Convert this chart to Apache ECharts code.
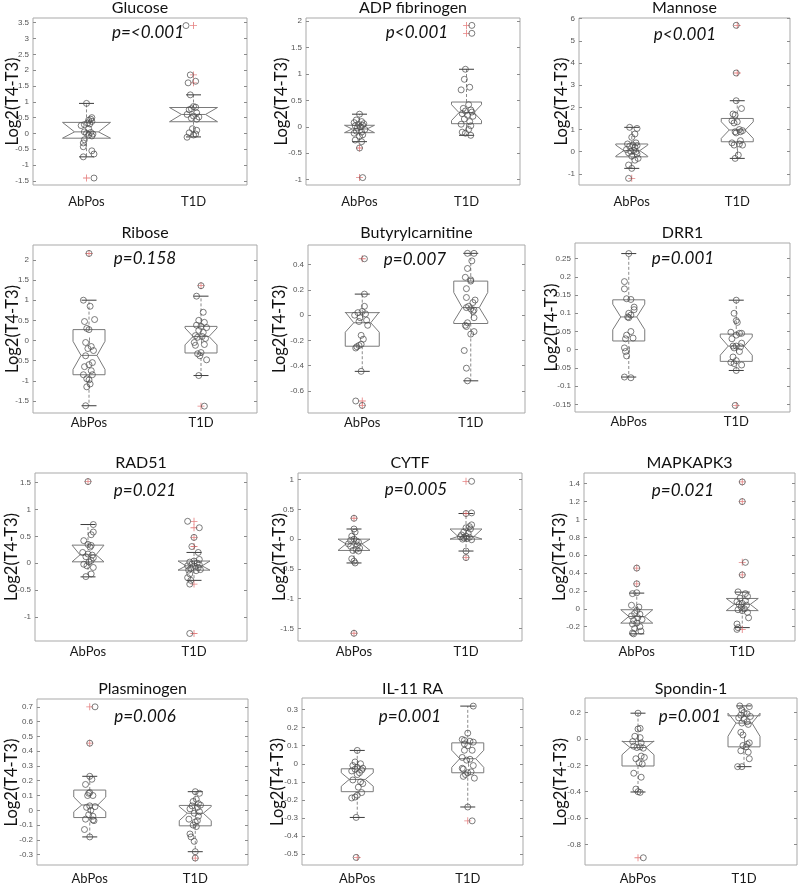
<!DOCTYPE html>
<html><head><meta charset="utf-8">
<script src="https://cdn.jsdelivr.net/npm/echarts@6/dist/echarts.min.js"></script>
<style>html,body{margin:0;padding:0;background:#fff}#c{width:799px;height:885px}</style>
</head><body><div id="c"></div><script>
// ---------------- DATA ----------------
const categories = ['AbPos', 'T1D'];
const titles = ['Glucose','ADP fibrinogen','Mannose','Ribose','Butyrylcarnitine','DRR1','RAD51','CYTF','MAPKAPK3','Plasminogen','IL-11 RA','Spondin-1'];
const pTexts = ['p=<0.001','p<0.001','p<0.001','p=0.158','p=0.007','p=0.001','p=0.021','p=0.005','p=0.021','p=0.006','p=0.001','p=0.001'];
const yMin = [-1.63, -1.1, -1.5, -1.8, -0.775, -0.171, -1.45, -1.71, -0.36, -0.37, -0.562, -0.955];
const yMax = [3.65, 2.06, 6.03, 2.37, 0.556, 0.293, 1.68, 1.11, 1.52, 0.753, 0.365, 0.31];
const yTicks = [
  [-1.5,-1,-0.5,0,0.5,1,1.5,2,2.5,3,3.5],
  [-1,-0.5,0,0.5,1,1.5,2],
  [-1,0,1,2,3,4,5,6],
  [-1.5,-1,-0.5,0,0.5,1,1.5,2],
  [-0.6,-0.4,-0.2,0,0.2,0.4],
  [-0.15,-0.1,-0.05,0,0.05,0.1,0.15,0.2,0.25],
  [-1,-0.5,0,0.5,1,1.5],
  [-1.5,-1,-0.5,0,0.5,1],
  [-0.2,0,0.2,0.4,0.6,0.8,1,1.2,1.4],
  [-0.3,-0.2,-0.1,0,0.1,0.2,0.3,0.4,0.5,0.6,0.7],
  [-0.5,-0.4,-0.3,-0.2,-0.1,0,0.1,0.2,0.3],
  [-0.8,-0.6,-0.4,-0.2,0,0.2]
];
// box stats: [lowWhisker, q1, notchLow, median, notchHigh, q3, highWhisker]
const boxAbPos = [
  [-0.74,-0.15,-0.15,0.05,0.35,0.35,0.95],
  [-0.28,-0.11,-0.11,-0.04,0.03,0.03,0.24],
  [-0.75,-0.23,-0.2,0.05,0.3,0.35,1.1],
  [-1.62,-0.85,-0.72,-0.37,-0.02,0.27,1.0],
  [-0.445,-0.246,-0.135,-0.06,0.025,0.02,0.167],
  [-0.075,0.024,0.055,0.09,0.125,0.137,0.264],
  [-0.255,0.025,0.025,0.155,0.336,0.336,0.72],
  [-0.4,-0.19,-0.19,-0.08,0.0,0.0,0.17],
  [-0.28,-0.16,-0.16,-0.086,-0.01,-0.01,0.176],
  [-0.18,-0.049,-0.01,0.036,0.09,0.137,0.23],
  [-0.298,-0.155,-0.125,-0.087,-0.05,-0.028,0.074],
  [-0.402,-0.205,-0.12,-0.065,-0.015,-0.02,0.195]
];
const boxT1D = [
  [-0.11,0.37,0.37,0.6,0.82,0.82,1.22],
  [-0.16,0.06,0.12,0.27,0.42,0.47,1.09],
  [-0.3,0.45,0.6,0.98,1.35,1.5,2.3],
  [-0.87,-0.31,-0.11,0.1,0.31,0.35,1.1],
  [-0.52,-0.066,-0.05,0.06,0.18,0.27,0.49],
  [-0.057,-0.032,-0.015,0.01,0.035,0.043,0.136],
  [-0.32,-0.13,-0.13,-0.05,0.04,0.04,0.2],
  [-0.2,0.0,0.0,0.045,0.17,0.17,0.43],
  [-0.21,-0.02,-0.02,0.05,0.116,0.116,0.187],
  [-0.28,-0.105,-0.07,-0.02,0.025,0.033,0.126],
  [-0.24,-0.05,-0.02,0.028,0.075,0.116,0.32],
  [-0.21,-0.06,0.02,0.12,0.195,0.175,0.25]
];
const outAbPos = [[-1.41],[-0.4,-0.96],[-1.2],[2.16],[0.447,-0.68,-0.715],[],[1.52],[0.35,-1.58],[0.456,0.28],[0.7,0.454],[-0.52],[-0.9]];
const outT1D = [[3.41,1.85,1.6],[1.92,1.77],[5.7,3.55],[1.36,-1.63],[],[-0.153],[0.78,0.66,0.48,0.31,-0.39,-1.31],[0.97,0.43,-0.31],[1.42,1.2,0.52,0.38,-0.23],[-0.323],[-0.317],[]];
// individual points: [jitter (category units), value]
const ptsAbPos = [
  [[0,0.95],[.05,.5],[.04,.45],[.02,.42],[.05,.38],[.01,.33],[.03,.3],[-.02,.28],[-.05,.25],[.02,.15],[-.02,.05],[.04,.03],[0,0],[.06,-.02],[.02,-.05],[.05,-.08],[-.02,-.2],[-.03,-.3],[-.03,-.42],[.05,-.55],[.07,-.65],[-.03,-.74],[.07,-1.41]],
  [[0,.24],[-.03,.13],[.02,.1],[-.05,.08],[.04,.06],[-.01,.05],[.03,.03],[-.04,.02],[.01,0],[-.02,-.02],[.05,-.05],[-.03,-.08],[.02,-.1],[-.05,-.12],[.03,-.15],[0,-.18],[-.04,-.25],[.02,-.28],[0,-.4],[.03,-.96]],
  [[-.02,1.1],[.05,1.05],[.03,.8],[0,.65],[.04,.4],[-.04,.35],[.01,.3],[.05,.28],[-.02,.25],[.03,.2],[-.05,.1],[.02,.05],[-.01,.02],[.04,0],[-.03,-.05],[.05,-.1],[0,-.2],[.06,-.3],[.03,-.38],[-.03,-.6],[0,-.75],[-.03,-1.2]],
  [[0,2.16],[-.05,1.0],[.01,.85],[.05,.52],[-.04,.47],[-.02,.3],[0,.27],[-.03,-.05],[.02,-.15],[-.01,-.2],[.04,-.25],[-.03,-.38],[.03,-.55],[0,-.6],[-.04,-.65],[.02,-.75],[-.05,-.85],[.03,-.85],[-.02,-.95],[0,-.98],[.01,-1.08],[-.02,-1.15],[-.03,-1.62]],
  [[.02,.447],[.02,.167],[.02,.07],[0,.03],[-.04,.02],[.03,.01],[-.07,0],[-.02,-.02],[.04,-.04],[-.03,-.05],[.05,-.08],[-.01,-.16],[.01,-.19],[-.01,-.23],[-.03,-.24],[-.05,-.25],[-.06,-.26],[-.01,-.445],[-.06,-.68],[0,-.715]],
  [[0,.264],[-.04,.187],[-.04,.167],[-.02,.14],[.02,.138],[.05,.117],[.05,.11],[0,.1],[.02,.095],[-.01,.09],[0,.088],[.02,.05],[-.02,.04],[.04,.032],[-.03,.03],[-.04,.005],[-.03,-.005],[-.02,-.017],[-.04,-.075],[.02,-.077]],
  [[0,1.52],[.05,.72],[.05,.58],[.03,.53],[-.04,.42],[0,.35],[.03,.33],[.02,.3],[-.05,.2],[0,.17],[.04,.15],[-.02,.12],[.05,.1],[.03,.05],[.01,.02],[-.04,-.02],[-.01,-.05],[.05,-.08],[.03,-.2],[-.02,-.25]],
  [[0,.35],[0,.17],[.01,.12],[-.02,.05],[0,0],[-.03,-.02],[.02,-.03],[.04,-.05],[-.05,-.08],[.03,-.1],[-.03,-.12],[.05,-.15],[.02,-.17],[-.01,-.19],[.04,-.2],[-.02,-.33],[0,-.37],[.01,-.4],[0,-1.58]],
  [[0,.456],[0,.28],[0,.18],[-.04,.17],[-.05,.04],[.02,.02],[0,-.02],[-.02,-.05],[.03,-.06],[-.05,-.08],[.01,-.1],[.05,-.12],[-.03,-.13],[0,-.16],[-.04,-.17],[.03,-.2],[-.02,-.22],[.04,-.25],[-.04,-.27],[-.03,-.28]],
  [[.05,.7],[0,.454],[0,.23],[.02,.21],[-.04,.175],[0,.12],[-.01,.115],[.03,.1],[-.02,.1],[0,.03],[.05,.025],[-.03,.02],[.01,0],[-.01,-.03],[.03,-.04],[-.04,-.06],[.03,-.065],[.04,-.07],[-.05,-.13],[0,-.18]],
  [[0,.074],[-.02,.01],[.03,0],[-.04,-.01],[0,-.02],[.05,-.025],[-.02,-.03],[.04,-.035],[-.05,-.04],[.02,-.05],[0,-.06],[-.04,-.09],[.03,-.1],[.05,-.11],[.01,-.13],[.04,-.16],[0,-.175],[-.02,-.185],[-.05,-.19],[-.01,-.298],[-.01,-.52]],
  [[0,.195],[.02,.08],[0,.075],[-.03,.02],[.02,.01],[-.05,-.02],[.03,-.03],[-.04,-.055],[.02,-.06],[-.01,-.065],[.05,-.07],[.03,-.13],[.06,-.14],[-.02,-.15],[.01,-.18],[.04,-.19],[-.04,-.26],[.03,-.29],[-.02,-.38],[0,-.4],[.02,-.405],[.05,-.9]]
];
const ptsT1D = [
  [[-.07,3.41],[-.03,1.85],[.02,1.65],[-.05,1.6],[-.03,1.22],[0,.85],[.02,.83],[-.02,.78],[-.04,.75],[.03,.65],[-.06,.6],[0,.55],[.05,.52],[-.02,.48],[.03,.45],[-.01,.15],[.03,.1],[-.04,.02],[.02,-.02],[0,-.05],[-.06,-.12]],
  [[.05,1.92],[.05,1.77],[-.01,1.09],[-.02,.9],[.03,.75],[-.05,.7],[.02,.42],[-.03,.35],[.04,.32],[-.01,.3],[.05,.28],[-.04,.25],[.01,.22],[.06,.2],[-.02,.15],[.03,.1],[-.05,.05],[.04,.02],[.02,-.05],[-.04,-.1],[-.01,-.12],[.04,-.16]],
  [[-.01,5.7],[-.01,3.55],[-.01,2.3],[.04,1.95],[-.04,1.7],[-.02,1.65],[-.05,1.4],[0,1.35],[-.03,1.3],[.02,1.0],[.05,.95],[-.02,.9],[.03,.9],[-.01,.85],[.03,.5],[-.05,.4],[.02,.35],[-.03,.3],[.05,.3],[.01,-.15],[-.02,-.3]],
  [[0,1.36],[-.04,1.1],[.02,.7],[-.02,.5],[.03,.45],[-.04,.38],[0,.35],[.05,.32],[-.02,.25],[.02,.2],[-.05,.12],[.01,.1],[-.03,.08],[.04,.05],[-.06,-.05],[.03,-.1],[-.05,-.12],[0,-.3],[-.03,-.33],[-.01,-.38],[.05,-.48],[-.02,-.87],[.03,-1.63]],
  [[-.03,.49],[.03,.49],[.01,.43],[-.03,.37],[-.05,.3],[0,.28],[0,.27],[-.04,.21],[-.04,.14],[.04,.12],[.02,.1],[-.02,.07],[-.04,.06],[0,.05],[.03,.04],[.02,.03],[.03,-.02],[-.03,-.06],[-.05,-.08],[-.04,-.09],[.03,-.13],[0,-.15],[-.06,-.28],[-.04,-.42],[-.03,-.52]],
  [[0,.136],[-.02,.1],[0,.08],[.01,.075],[-.05,.048],[.03,.045],[.05,.045],[0,.04],[-.04,.03],[.05,.018],[-.03,.01],[0,.01],[.04,.008],[-.02,.005],[.03,-.005],[-.03,-.02],[0,-.03],[-.05,-.035],[-.02,-.038],[.05,-.042],[0,-.057],[-.01,-.153]],
  [[-.06,.78],[.05,.66],[0,.48],[-.02,.31],[.04,.2],[.05,.07],[0,.04],[-.04,.02],[.03,0],[-.02,-.02],[.05,-.03],[-.06,-.05],[.01,-.06],[.04,-.08],[-.03,-.1],[.06,-.12],[-.05,-.13],[.02,-.14],[-.04,-.2],[-.06,-.27],[-.03,-.32],[-.04,-.39],[-.04,-1.31]],
  [[.05,.97],[.05,.44],[0,.43],[.05,.24],[.03,.21],[0,.19],[.04,.17],[-.02,.12],[.02,.1],[-.04,.07],[0,.05],[-.05,.04],[.03,.03],[-.02,.02],[.01,.01],[-.03,0],[.05,-.01],[0,-.2],[0,-.31]],
  [[0,1.42],[0,1.2],[.03,.52],[0,.38],[-.04,.19],[.03,.17],[.05,.14],[-.02,.12],[.03,.09],[-.05,.08],[0,.06],[-.03,.05],[.04,.04],[-.01,.02],[.02,0],[-.04,-.01],[0,-.02],[.05,-.04],[.06,-.1],[-.05,-.17],[-.04,-.21],[-.05,-.23]],
  [[0,.126],[.04,.115],[.01,.075],[-.02,.06],[.03,.045],[.05,.035],[-.03,.03],[.02,.02],[-.05,.01],[.04,-.01],[-.01,-.02],[.03,-.04],[-.06,-.06],[.02,-.07],[0,-.08],[-.02,-.1],[.01,-.11],[-.05,-.16],[-.04,-.18],[-.01,-.21],[0,-.28],[0,-.323]],
  [[.05,.32],[0,.17],[-.05,.135],[-.03,.13],[.02,.125],[.05,.12],[-.03,.11],[0,.1],[-.03,.075],[.04,.075],[-.05,.035],[.02,.025],[-.01,.02],[.05,-.01],[-.05,-.025],[-.04,-.03],[.03,-.045],[0,-.05],[-.02,-.06],[-.04,-.07],[.06,-.08],[0,-.24],[.04,-.317]],
  [[-.04,.25],[.05,.245],[-.02,.22],[0,.2],[.03,.19],[-.03,.18],[.06,.17],[-.05,.16],[0,.15],[.03,.13],[-.02,.12],[.04,.11],[-.03,.05],[-.01,.03],[.05,-.03],[.03,-.04],[-.01,-.05],[.02,-.06],[-.03,-.09],[.04,-.1],[.05,-.15],[-.06,-.21],[-.02,-.21]]
];

// ---------------- LAYOUT ----------------
const gridRects = [
  [33,18,214,167],[306,18,214,167],[579,18,211,167],
  [33,245,224,168],[308,245,217,168],[575,243,215,169],
  [35,473,212,168],[298,473,224,168],[584,473,211,168],
  [37,699,211,167],[302,698,221,168],[585,698,212,168]
];
const boxHalfPx = [24,15,16,16,17,16,16,16,16,16,16,16];
const titleY = [8,233,463,689];
const pPos = [[148,33],[417,33],[685,35],[145,259],[415,260],[683,259],[145,491],[416,490],[683,491],[145,717],[410,717],[690,717]];
const yLabelX = [13,282,562,13,280,552,12,280,560,12,278,561];
const labelMargin = [10,3,4,7];

const plusPath = 'path://M4.4,0h1.2v10h-1.2zM0,4.4h10v1.2h-10z';

function makeBox(hw) {
  return function (params, api) {
    const x = api.value(0);
    const Y = v => api.coord([x, v])[1];
    const cx = api.coord([x, api.value(4)])[0];
    const wl = Y(api.value(1)), q1 = Y(api.value(2)), nl = Y(api.value(3)), md = Y(api.value(4)),
          nh = Y(api.value(5)), q3 = Y(api.value(6)), wh = Y(api.value(7));
    const nw = hw / 2, cw = 7.5;
    const dash = {stroke:'#8a8a8a', lineWidth:1, lineDash:[3,2]};
    const cap = {stroke:'#3c3c3c', lineWidth:1};
    return {type:'group', children:[
      {type:'line', shape:{x1:cx,y1:q3,x2:cx,y2:wh}, style:dash},
      {type:'line', shape:{x1:cx,y1:q1,x2:cx,y2:wl}, style:dash},
      {type:'line', shape:{x1:cx-cw,y1:wh,x2:cx+cw,y2:wh}, style:cap},
      {type:'line', shape:{x1:cx-cw,y1:wl,x2:cx+cw,y2:wl}, style:cap},
      {type:'polygon', shape:{points:[[cx-hw,q1],[cx-hw,nl],[cx-nw,md],[cx-hw,nh],[cx-hw,q3],[cx+hw,q3],[cx+hw,nh],[cx+nw,md],[cx+hw,nl],[cx+hw,q1]]},
        style:{stroke:'#7a7a7a', fill:null, lineWidth:1}},
      {type:'line', shape:{x1:cx-nw,y1:md,x2:cx+nw,y2:md}, style:{stroke:'#7a7a7a', lineWidth:1}}
    ]};
  };
}

const grids = [], xAxes = [], yAxes = [], series = [], graphics = [];
const tickColor = '#8c8c8c';
titles.forEach((t, i) => {
  const [L, T, W, H] = gridRects[i];
  const row = Math.floor(i / 3);
  grids.push({left:L, top:T, width:W, height:H, show:true, borderColor:'#a9a9a9', borderWidth:1, backgroundColor:'#fff'});
  xAxes.push({gridIndex:i, type:'value', min:0.5, max:2.5, position:'bottom',
    axisLine:{show:false}, splitLine:{show:false},
    axisTick:{show:true, inside:true, length:3, customValues:[1,2], lineStyle:{color:tickColor}},
    axisLabel:{customValues:[1,2], formatter:v => categories[Math.round(v)-1], margin:labelMargin[row],
      fontFamily:'Lato', fontSize:13, color:'#1a1a1a'}});
  xAxes.push({gridIndex:i, type:'value', min:0.5, max:2.5, position:'top',
    axisLine:{show:false}, splitLine:{show:false},
    axisTick:{show:true, inside:true, length:3, customValues:[1,2], lineStyle:{color:tickColor}},
    axisLabel:{show:false}});
  yAxes.push({gridIndex:i, type:'value', min:yMin[i], max:yMax[i], position:'left',
    axisLine:{show:false}, splitLine:{show:false},
    axisTick:{show:true, inside:true, length:3, customValues:yTicks[i], lineStyle:{color:tickColor}},
    axisLabel:{customValues:yTicks[i], formatter:v => String(+(+v).toFixed(3)), fontFamily:'Liberation Sans', fontSize:8, color:'#555', margin:4}});
  yAxes.push({gridIndex:i, type:'value', min:yMin[i], max:yMax[i], position:'right',
    axisLine:{show:false}, splitLine:{show:false},
    axisTick:{show:true, inside:true, length:3, customValues:yTicks[i], lineStyle:{color:tickColor}},
    axisLabel:{show:false}});
  const xi = 2*i, yi = 2*i;
  series.push({type:'custom', xAxisIndex:xi, yAxisIndex:yi, renderItem:makeBox(boxHalfPx[i]), silent:true, z:2,
    encode:{x:0, y:4},
    data:[[1, ...boxAbPos[i]], [2, ...boxT1D[i]]]});
  series.push({type:'scatter', xAxisIndex:xi, yAxisIndex:yi, symbol:plusPath, symbolSize:7, silent:true, z:3,
    itemStyle:{color:'#e06464'},
    data:[...outAbPos[i].map(v => [1, v]), ...outT1D[i].map(v => [2, v])]});
  series.push({type:'scatter', xAxisIndex:xi, yAxisIndex:yi, symbol:'circle', symbolSize:6, silent:true, z:4,
    itemStyle:{color:'rgba(0,0,0,0)', borderColor:'#4a4a4a', borderWidth:0.8, opacity:0.9},
    data:[...ptsAbPos[i].map(p => [1 + p[0], p[1]]), ...ptsT1D[i].map(p => [2 + p[0], p[1]])]});
  graphics.push({type:'text', x:L + W/2, y:titleY[row], z:10,
    style:{text:t, font:'16px Lato', fill:'#111', textAlign:'center', textVerticalAlign:'middle', align:'center', verticalAlign:'middle'}});
  graphics.push({type:'text', x:pPos[i][0], y:pPos[i][1], z:10,
    style:{text:pTexts[i], font:'italic 17px Lato', fill:'#111', textAlign:'center', textVerticalAlign:'middle', align:'center', verticalAlign:'middle'}});
  graphics.push({type:'text', x:yLabelX[i], y:T + H/2, rotation:Math.PI/2, z:10,
    style:{text:'Log2(T4-T3)', font:'16.5px Lato', fill:'#111', textAlign:'center', textVerticalAlign:'middle', align:'center', verticalAlign:'middle'}});
});

const chart = echarts.init(document.getElementById('c'), null, {renderer:'canvas'});
chart.setOption({animation:false, backgroundColor:'#fff', grid:grids, xAxis:xAxes, yAxis:yAxes, series:series, graphic:graphics});
</script></body></html>
